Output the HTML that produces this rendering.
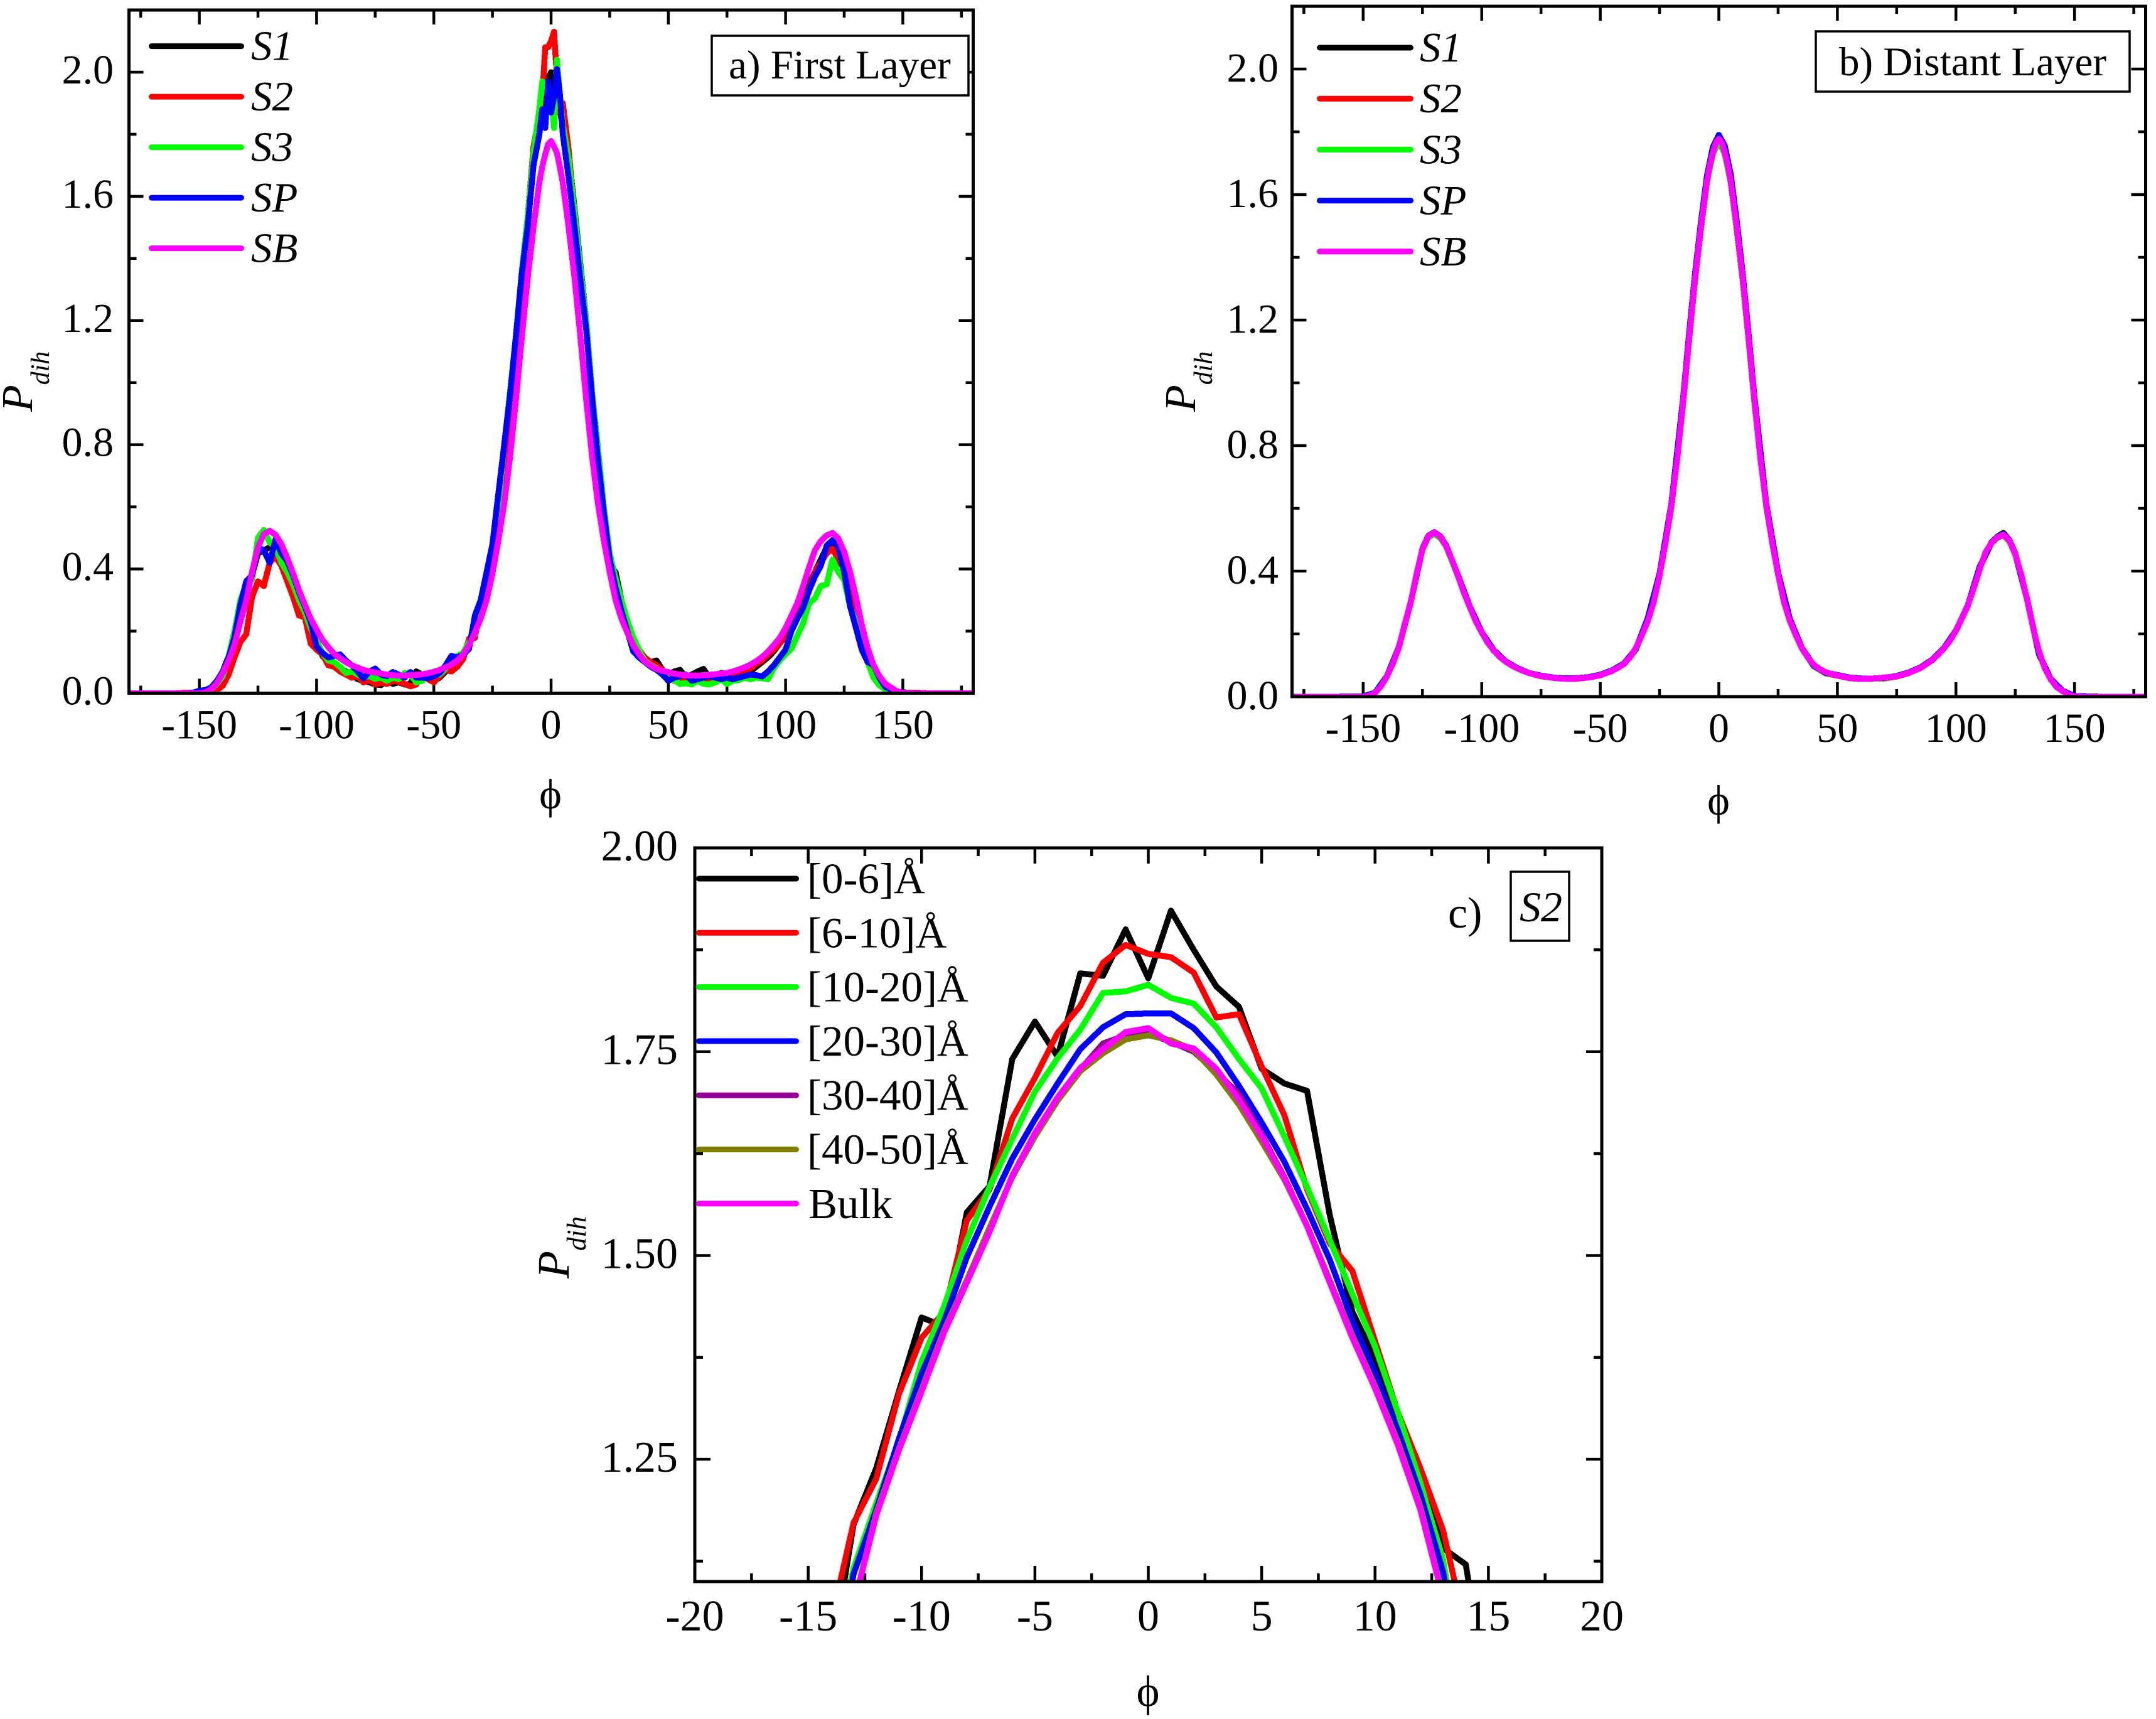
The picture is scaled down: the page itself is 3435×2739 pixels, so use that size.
<!DOCTYPE html>
<html lang="en">
<head>
<meta charset="utf-8">
<title>Dihedral distributions</title>
<style>
html,body{margin:0;padding:0;background:#fff;width:3435px;height:2739px;overflow:hidden;}
svg{display:block;overflow:hidden;}
text{font-family:"Liberation Serif","DejaVu Serif",serif;fill:#000;}
.it{font-style:italic;}
</style>
</head>
<body>
<svg id="fig" xmlns="http://www.w3.org/2000/svg" width="3435" height="2739" viewBox="0 0 3435 2739">
<rect x="0" y="0" width="3435" height="2739" fill="#fff"/>
<defs>
<clipPath id="clipA"><rect x="205" y="16" width="1345" height="1088"/></clipPath>
<clipPath id="clipB"><rect x="2058" y="10" width="1360" height="1100"/></clipPath>
<clipPath id="clipC"><rect x="1107" y="1351" width="1445" height="1169"/></clipPath>
</defs>
<g id="panelA"></g>
<g id="panelB"></g>
<g id="panelC"></g>

<text transform="translate(51 656) rotate(-90)" font-size="70" class="it">P<tspan font-size="42" dy="27">dih</tspan></text>
<text transform="translate(1904 656) rotate(-90)" font-size="70" class="it">P<tspan font-size="42" dy="27">dih</tspan></text>
<text transform="translate(906 2037) rotate(-90)" font-size="72" class="it">P<tspan font-size="43" dy="27">dih</tspan></text>

<text x="877" y="1288" font-size="68" text-anchor="middle">ϕ</text>
<text x="2738" y="1298" font-size="68" text-anchor="middle">ϕ</text>
<text x="1829" y="2718" font-size="70" text-anchor="middle">ϕ</text>

<g>
<rect x="1134" y="57" width="409" height="95" fill="#fff" stroke="#000" stroke-width="3.5"/>
<text x="1161" y="125" font-size="65">a) First Layer</text>
</g>
<g>
<rect x="2893" y="50" width="500" height="96" fill="#fff" stroke="#000" stroke-width="3.5"/>
<text x="2930" y="120" font-size="65">b) Distant Layer</text>
</g>
<g>
<text x="2307" y="1478" font-size="70">c)</text>
<rect x="2407" y="1389" width="93" height="110" fill="#fff" stroke="#000" stroke-width="3.5"/>
<text x="2421" y="1468" font-size="68" class="it">S2</text>
</g>
<g id="legends"></g>
</svg>
<script>
// ---------- Panel a and panel b shared angle grid ----------
const phiA = [
  -180,-170,-160,-155,-152.5,
  -150,-147.5,-145,-142.5,-140,-137.5,-135,-132.5,-130,-127.5,
  -125,-122.5,-120,-117.5,-115,-112.5,-110,-107.5,-105,-102.5,
  -100,-97.5,-95,-92.5,-90,-87.5,-85,-82.5,-80,-77.5,
  -75,-72.5,-70,-67.5,-65,-62.5,-60,-57.5,-55,-52.5,
  -50,-47.5,-45,-42.5,-40,-37.5,-35,-32.5,-30,-27.5,
  -25,-22.5,-20,-17.5,-15,-12.5,-10,-7.5,
  -5,-3.75,-2.5,-1.25,0,1.25,2.5,3.75,5,
  7.5,10,12.5,15,17.5,20,22.5,25,
  27.5,30,32.5,35,37.5,40,42.5,45,47.5,50,
  52.5,55,57.5,60,62.5,65,67.5,70,72.5,75,
  77.5,80,82.5,85,87.5,90,92.5,95,97.5,100,
  102.5,105,107.5,110,112.5,115,117.5,120,122.5,125,
  127.5,130,132.5,135,137.5,140,142.5,145,147.5,150,
  152.5,155,160,170,180
];
// ---------- Panel a values ----------
const firstS1 = [
  0,0,0,.001,.002,
  .004,.006,.012,.036,.07,.12,.15,.24,.33,.38,
  .45,.46,.47,.465,.42,.4,.34,.3,.25,.18,
  .16,.12,.1,.095,.08,.07,.06,.045,.04,.035,
  .028,.026,.04,.03,.035,.028,.03,.07,.06,.05,
  .04,.05,.07,.09,.1,.125,.17,.2,.28,.33,
  .43,.6,.78,.97,1.14,1.36,1.5,1.72,
  1.82,1.88,1.92,1.98,2.0,1.96,1.92,1.88,1.82,
  1.74,1.56,1.38,1.2,.96,.76,.58,.41,
  .39,.3,.235,.165,.13,.11,.1,.105,.075,.055,
  .07,.075,.05,.06,.07,.078,.05,.05,.065,.06,
  .05,.055,.06,.07,.085,.1,.115,.135,.16,.185,
  .22,.27,.3,.35,.39,.43,.47,.48,.455,.4,
  .33,.26,.17,.11,.07,.035,.018,.01,.005,.003,
  .001,.002,0,0,0
];
const firstS2 = [
  0,0,0,.002,.002,
  .002,.004,.006,.01,.024,.06,.115,.165,.19,.31,
  .36,.345,.42,.44,.41,.36,.31,.25,.245,.16,
  .14,.125,.09,.085,.07,.06,.05,.055,.035,.042,
  .028,.034,.03,.04,.036,.03,.022,.028,.058,.045,
  .035,.055,.075,.07,.085,.11,.175,.178,.29,.34,
  .41,.56,.76,.95,1.12,1.33,1.53,1.76,
  1.86,1.92,2.08,2.08,2.10,2.13,1.98,1.87,1.9,
  1.75,1.54,1.36,1.19,.92,.72,.54,.44,
  .35,.285,.23,.17,.14,.115,.1,.09,.075,.055,
  .04,.05,.045,.038,.045,.052,.04,.035,.05,.042,
  .05,.06,.07,.08,.095,.105,.125,.14,.16,.19,
  .22,.25,.31,.33,.39,.42,.45,.465,.43,.40,
  .37,.28,.17,.11,.075,.04,.02,.012,.006,.002,
  .001,.001,0,0,0
];
const firstS3 = [
  0,0,0,0,.001,
  .002,.005,.012,.03,.055,.12,.2,.3,.35,.365,
  .5,.525,.485,.47,.42,.39,.35,.3,.26,.21,
  .17,.13,.105,.1,.085,.065,.07,.06,.052,.055,
  .046,.05,.04,.05,.045,.065,.06,.035,.04,.06,
  .065,.06,.08,.105,.12,.13,.165,.19,.27,.325,
  .43,.6,.8,.97,1.15,1.36,1.53,1.74,
  1.88,1.97,1.93,1.94,1.93,1.82,2.04,1.93,1.83,
  1.72,1.55,1.37,1.2,.97,.79,.6,.45,
  .37,.3,.235,.18,.14,.105,.09,.08,.06,.045,
  .042,.03,.032,.028,.04,.03,.028,.035,.045,.03,
  .04,.042,.05,.045,.05,.048,.045,.08,.105,.125,
  .143,.185,.225,.29,.305,.345,.35,.43,.39,.365,
  .277,.23,.16,.1,.05,.025,.012,.005,.002,0,
  0,0,0,0,0
];
const firstSP = [
  0,0,0,0,.002,
  .008,.01,.018,.04,.07,.115,.18,.285,.36,.38,
  .47,.46,.42,.495,.45,.425,.38,.325,.28,.23,
  .15,.13,.115,.12,.125,.105,.09,.07,.048,.07,
  .079,.06,.055,.068,.06,.05,.068,.05,.05,.048,
  .055,.065,.09,.12,.115,.125,.142,.25,.3,.39,
  .48,.64,.8,.96,1.15,1.35,1.5,1.7,
  1.8,1.88,1.82,1.97,1.87,1.92,2.01,1.93,1.8,
  1.66,1.5,1.33,1.17,.95,.75,.58,.43,
  .34,.265,.2,.135,.115,.1,.085,.075,.06,.04,
  .05,.055,.06,.04,.045,.05,.055,.05,.045,.05,
  .045,.05,.055,.06,.058,.054,.07,.09,.115,.14,
  .2,.24,.275,.33,.375,.41,.475,.493,.47,.39,
  .28,.21,.14,.1,.09,.05,.02,.012,.006,.002,
  0,0,0,0,0
];
const firstSB = [
  0,0,0,0,0,
  0,.003,.012,.033,.065,.105,.155,.23,.298,.39,
  .47,.512,.523,.51,.48,.435,.385,.331,.285,.24,
  .205,.172,.148,.127,.112,.1,.09,.082,.075,.07,
  .066,.063,.06,.058,.057,.057,.058,.059,.061,.064,
  .069,.075,.083,.092,.105,.125,.155,.195,.24,.30,
  .385,.49,.61,.76,.945,1.145,1.335,1.5,
  1.645,1.697,1.735,1.768,1.778,1.76,1.74,1.695,1.643,
  1.5,1.337,1.147,.945,.76,.61,.49,.39,
  .30,.24,.195,.155,.125,.102,.088,.078,.072,.068,
  .063,.06,.058,.057,.057,.058,.059,.061,.063,.065,
  .07,.076,.083,.092,.103,.117,.134,.155,.178,.21,
  .25,.29,.345,.405,.46,.49,.508,.516,.498,.455,
  .39,.31,.22,.145,.09,.055,.03,.018,.006,.001,
  0,0,0,0,0
];
// ---------- Panel b values ----------
const phiB = [
  -180,-160,
  -150,-145,-140,-135,-130,-125,-122.5,-120,-117.5,-115,-110,-105,-100,-95,
  -90,-85,-80,-75,-70,-65,-60,-55,-50,-45,-40,-35,
  -30,-25,-20,-15,-12.5,-10,-7.5,-5,-2.5,0,2.5,5,7.5,10,12.5,15,20,25,
  30,35,40,45,50,55,60,65,70,75,80,85,
  90,95,100,105,110,115,117.5,120,122.5,125,130,135,140,145,
  150,160,180
];
const distantS1 = [
  0,0,
  .001,.012,.066,.156,.299,.471,.512,.522,.51,.481,.386,.286,.206,.149,
  .113,.09,.075,.066,.06,.057,.058,.061,.069,.083,.105,.151,
  .245,.387,.608,.942,1.145,1.335,1.5,1.648,1.737,1.775,1.737,1.646,1.5,1.337,1.147,.945,.61,.39,
  .246,.156,.098,.075,.068,.06,.057,.057,.059,.065,.076,.092,
  .117,.156,.211,.291,.414,.492,.51,.522,.499,.457,.311,.136,.055,.018,
  .001,0,0
];
const distantS2 = [
  0,0,
  .001,.011,.064,.155,.297,.469,.508,.519,.506,.479,.384,.285,.204,.147,
  .112,.09,.075,.065,.06,.057,.057,.061,.068,.082,.104,.149,
  .244,.385,.6,.935,1.137,1.327,1.49,1.64,1.73,1.77,1.73,1.638,1.49,1.328,1.14,.935,.6,.389,
  .244,.154,.097,.074,.067,.059,.056,.057,.058,.064,.075,.091,
  .116,.154,.209,.289,.411,.489,.506,.514,.495,.454,.309,.134,.054,.017,
  .001,0,0
];
const distantS3 = [
  0,0,
  .001,.013,.066,.156,.298,.47,.509,.52,.507,.48,.385,.285,.205,.148,
  .112,.091,.076,.066,.061,.058,.058,.061,.069,.083,.105,.15,
  .246,.386,.602,.937,1.14,1.33,1.493,1.642,1.732,1.772,1.732,1.64,1.493,1.33,1.142,.937,.6,.391,
  .245,.155,.098,.075,.068,.061,.058,.057,.059,.065,.077,.092,
  .118,.155,.21,.29,.412,.49,.506,.515,.496,.455,.31,.135,.056,.018,
  .002,0,0
];
const distantSP = [
  0,0,
  .001,.012,.065,.157,.3,.472,.513,.524,.511,.482,.387,.287,.206,.149,
  .113,.091,.075,.067,.061,.058,.059,.062,.07,.084,.106,.152,
  .25,.392,.615,.955,1.16,1.35,1.515,1.66,1.752,1.79,1.756,1.665,1.52,1.352,1.16,.955,.615,.395,
  .247,.156,.099,.076,.069,.061,.058,.058,.06,.066,.077,.093,
  .118,.156,.211,.291,.413,.491,.509,.518,.5,.456,.311,.136,.056,.019,
  .002,0,0
];
const distantSB = [
  0,0,0,0,0,
  0,.003,.012,.033,.065,.105,.155,.23,.298,.39,
  .47,.512,.523,.51,.48,.435,.385,.331,.285,.24,
  .205,.172,.148,.127,.112,.1,.09,.082,.075,.07,
  .066,.063,.06,.058,.057,.057,.058,.059,.061,.064,
  .069,.075,.083,.092,.105,.125,.155,.195,.24,.30,
  .385,.49,.61,.76,.945,1.145,1.335,1.5,
  1.645,1.695,1.735,1.765,1.778,1.765,1.735,1.693,1.643,
  1.5,1.337,1.147,.945,.76,.61,.49,.39,
  .30,.24,.195,.155,.125,.102,.088,.078,.072,.068,
  .063,.06,.058,.057,.057,.058,.059,.061,.063,.065,
  .07,.076,.083,.092,.103,.117,.134,.155,.178,.21,
  .25,.29,.345,.405,.46,.49,.508,.516,.498,.455,
  .39,.31,.22,.145,.09,.055,.03,.018,.006,.001,
  0,0,0,0,0
];
// ---------- Panel c values ----------
const phiC = [-14,-13,-12,-11,-10,-9,-8,-7,-6,-5,-4,-3,-2,-1,0,1,2,3,4,5,6,7,8,9,10,11,12,13,14,15];
const layer0to6 = [1.0,1.17,1.239,1.333,1.424,1.413,1.553,1.585,1.741,1.787,1.744,1.846,1.843,1.90,1.84,1.923,1.875,1.83,1.805,1.729,1.711,1.702,1.55,1.431,1.373,1.286,1.221,1.141,1.121,.95];
const layer6to10 = [1.05,1.172,1.226,1.33,1.399,1.431,1.543,1.581,1.668,1.718,1.773,1.806,1.859,1.881,1.87,1.866,1.847,1.792,1.796,1.732,1.672,1.581,1.515,1.481,1.395,1.308,1.239,1.163,1.04,.95];
const layer10to20 = [.99,1.116,1.196,1.272,1.37,1.438,1.519,1.584,1.643,1.701,1.742,1.777,1.822,1.824,1.832,1.816,1.809,1.78,1.741,1.705,1.646,1.584,1.519,1.453,1.388,1.308,1.221,1.127,.96,.95];
const layer20to30 = [.95,1.109,1.188,1.275,1.355,1.42,1.498,1.56,1.619,1.667,1.711,1.753,1.78,1.796,1.797,1.797,1.779,1.749,1.708,1.663,1.615,1.557,1.495,1.42,1.356,1.286,1.207,1.112,.95,.95];
const layer30to40 = [.95,1.07,1.183,1.262,1.335,1.408,1.469,1.532,1.597,1.648,1.692,1.728,1.76,1.77,1.772,1.762,1.75,1.725,1.698,1.648,1.596,1.536,1.468,1.4,1.338,1.27,1.19,1.08,.95,.95];
const layer40to50 = [.95,1.07,1.184,1.263,1.336,1.409,1.47,1.534,1.596,1.646,1.69,1.726,1.748,1.765,1.77,1.764,1.752,1.722,1.685,1.64,1.593,1.537,1.47,1.402,1.34,1.272,1.192,1.082,.95,.95];
const layerBulk = [.95,1.07,1.181,1.261,1.333,1.406,1.467,1.529,1.598,1.65,1.694,1.73,1.753,1.774,1.779,1.76,1.754,1.729,1.691,1.646,1.595,1.536,1.467,1.399,1.337,1.268,1.188,1.08,.95,.95];
// ---------- Tick labels ----------
const wideXMajor = [-150,-100,-50,0,50,100,150];
const wideXMinor = [-175,-125,-75,-25,25,75,125,175];
const wideYMajor = ["0.0","0.4","0.8","1.2","1.6","2.0"];
const wideYMinor = [0.2,0.6,1.0,1.4,1.8];
const zoomXMajor = [-20,-15,-10,-5,0,5,10,15,20];
const zoomXMinor = [-17.5,-12.5,-7.5,-2.5,2.5,7.5,12.5,17.5];
const zoomYMajor = ["1.25","1.50","1.75","2.00"];
const zoomYMinor = [1.125,1.375,1.625,1.875];
// ---------- Legend labels ----------
const systemLabels = ["S1","S2","S3","SP","SB"];
const layerLabels = ["[0-6]Å","[6-10]Å","[10-20]Å","[20-30]Å","[30-40]Å","[40-50]Å","Bulk"];

const NS = "http://www.w3.org/2000/svg";
const systemColors = ["#000000","#ff0000","#00ff00","#0000ff","#ff00ff"];
const layerColors = ["#000000","#ff0000","#00ff00","#0000ff","#930093","#808000","#ff00ff"];

function make(tag, parent, attrs, txt) {
  const n = document.createElementNS(NS, tag);
  for (const k in attrs) n.setAttribute(k, attrs[k]);
  if (txt !== undefined) n.textContent = txt;
  parent.appendChild(n);
  return n;
}
function scale(d0, d1, r0, r1) {
  return function (v) { return r0 + (v - d0) / (d1 - d0) * (r1 - r0); };
}
function drawTicks(g, p, x, y) {
  p.xMajor.forEach(function (v) {
    const px = x(v);
    const a = make("line", g, {x1:px, x2:px, y1:p.bottom, y2:p.bottom - p.major, stroke:"#000", "stroke-width":4.5});
    
    
    const b = make("line", g, {x1:px, x2:px, y1:p.top, y2:p.top + p.major, stroke:"#000", "stroke-width":4.5});
    
    
    const t = make("text", g, {x:px, y:p.bottom + p.xLabelDy, "font-size":p.font, "text-anchor":"middle"}, String(v));
    
    
  });
  p.xMinor.forEach(function (v) {
    const px = x(v);
    const a = make("line", g, {x1:px, x2:px, y1:p.bottom, y2:p.bottom - p.minor, stroke:"#000", "stroke-width":4.5});
    
    
    const b = make("line", g, {x1:px, x2:px, y1:p.top, y2:p.top + p.minor, stroke:"#000", "stroke-width":4.5});
    
    
  });
  p.yMajor.forEach(function (s) {
    const py = y(parseFloat(s));
    const a = make("line", g, {x1:p.left, x2:p.left + p.major, y1:py, y2:py, stroke:"#000", "stroke-width":4.5});
    
    
    const b = make("line", g, {x1:p.right, x2:p.right - p.major, y1:py, y2:py, stroke:"#000", "stroke-width":4.5});
    
    
    const t = make("text", g, {x:p.yLabelX, y:py + p.yLabelDy, "font-size":p.font, "text-anchor":"end"}, s);
    
    
  });
  p.yMinor.forEach(function (v) {
    const py = y(v);
    const a = make("line", g, {x1:p.left, x2:p.left + p.minor, y1:py, y2:py, stroke:"#000", "stroke-width":4.5});
    
    
    const b = make("line", g, {x1:p.right, x2:p.right - p.minor, y1:py, y2:py, stroke:"#000", "stroke-width":4.5});
    
    
  });
}
function drawSeries(g, xs, ys, x, y, color, clip) {
  const n = Math.min(xs.length, ys.length);
  const pts = [];
  for (let i = 0; i < n; i++) pts.push(x(xs[i]).toFixed(1) + "," + y(ys[i]).toFixed(1));
  return make("polyline", g, {points:pts.join(" "), fill:"none", stroke:color, "stroke-width":9.5, "stroke-linejoin":"round", "shape-rendering":"crispEdges", "clip-path":"url(#" + clip + ")"});
}
function drawFrame(g, p) {
  const f = make("rect", g, {x:p.left, y:p.top, width:p.right - p.left, height:p.bottom - p.top, fill:"none", stroke:"#000", "stroke-width":5});
  
  
}

const panelA = {left:205.5, right:1550.5, top:16, bottom:1104.5, xMin:-180, xMax:180, yMin:0, yMax:2.2,
  xMajor:wideXMajor, xMinor:wideXMinor, yMajor:wideYMajor, yMinor:wideYMinor,
  major:23, minor:12, font:66, xLabelDy:72, yLabelX:181, yLabelDy:18};
const panelB = {left:2058.5, right:3418.5, top:10, bottom:1110, xMin:-180, xMax:180, yMin:0, yMax:2.2,
  xMajor:wideXMajor, xMinor:wideXMinor, yMajor:wideYMajor, yMinor:wideYMinor,
  major:23, minor:12, font:66, xLabelDy:72, yLabelX:2037, yLabelDy:20};
const panelC = {left:1107, right:2552, top:1351, bottom:2520, xMin:-20, xMax:20, yMin:1.1, yMax:2.0,
  xMajor:zoomXMajor, xMinor:zoomXMinor, yMajor:zoomYMajor, yMinor:zoomYMinor,
  major:25, minor:13, font:70, xLabelDy:78, yLabelX:1080, yLabelDy:20};

function axisX(p) { return scale(p.xMin, p.xMax, p.left, p.right); }
function axisY(p) { return scale(p.yMin, p.yMax, p.bottom, p.top); }

// Panel a
(function () {
  const g = document.getElementById("panelA");
  const x = axisX(panelA), y = axisY(panelA);
  drawTicks(g, panelA, x, y);
  const s1 = drawSeries(g, phiA, firstS1, x, y, systemColors[0], "clipA");
  
  
  const s2 = drawSeries(g, phiA, firstS2, x, y, systemColors[1], "clipA");
  
  
  const s3 = drawSeries(g, phiA, firstS3, x, y, systemColors[2], "clipA");
  
  
  const sp = drawSeries(g, phiA, firstSP, x, y, systemColors[3], "clipA");
  
  
  const sb = drawSeries(g, phiA, firstSB, x, y, systemColors[4], "clipA");
  
  
  drawFrame(g, panelA);
})();

// Panel b
(function () {
  const g = document.getElementById("panelB");
  const x = axisX(panelB), y = axisY(panelB);
  drawTicks(g, panelB, x, y);
  const s1 = drawSeries(g, phiB, distantS1, x, y, systemColors[0], "clipB");
  
  
  const s2 = drawSeries(g, phiB, distantS2, x, y, systemColors[1], "clipB");
  
  
  const s3 = drawSeries(g, phiB, distantS3, x, y, systemColors[2], "clipB");
  
  
  const sp = drawSeries(g, phiB, distantSP, x, y, systemColors[3], "clipB");
  
  
  const sb = drawSeries(g, phiA, distantSB, x, y, systemColors[4], "clipB");
  
  
  drawFrame(g, panelB);
})();

// Panel c
(function () {
  const g = document.getElementById("panelC");
  const x = axisX(panelC), y = axisY(panelC);
  drawTicks(g, panelC, x, y);
  const a = drawSeries(g, phiC, layer0to6, x, y, layerColors[0], "clipC");
  
  
  const b = drawSeries(g, phiC, layer6to10, x, y, layerColors[1], "clipC");
  
  
  const c = drawSeries(g, phiC, layer10to20, x, y, layerColors[2], "clipC");
  
  
  const d = drawSeries(g, phiC, layer20to30, x, y, layerColors[3], "clipC");
  
  
  const e = drawSeries(g, phiC, layer30to40, x, y, layerColors[4], "clipC");
  
  
  const f = drawSeries(g, phiC, layer40to50, x, y, layerColors[5], "clipC");
  
  
  const h = drawSeries(g, phiC, layerBulk, x, y, layerColors[6], "clipC");
  
  
  drawFrame(g, panelC);
})();

// Legends
function drawLegend(labels, colors, x0, x1, textX, y0, dy, textDy, size, italic) {
  const root = document.getElementById("legends");
  labels.forEach(function (label, i) {
    const yy = y0 + i * dy;
    const entry = make("g", root, {});
    
    
    const sw = make("line", entry, {x1:x0, x2:x1, y1:yy, y2:yy, stroke:colors[i], "stroke-width":9, "stroke-linecap":"round"});
    
    
    const attrs = {x:(label === "Bulk" ? textX + 2 : textX), y:yy + textDy, "font-size":size};
    if (italic) attrs["class"] = "it";
    const t = make("text", entry, attrs, label);
    
    
  });
}
drawLegend(systemLabels, systemColors, 241.5, 384.5, 400, 73.6, 80.5, 22, 67, true);
drawLegend(systemLabels, systemColors, 2102.5, 2247.5, 2262, 76, 81.2, 22, 67, true);
drawLegend(layerLabels, layerColors, 1113.5, 1268.5, 1286, 1400, 86.3, 23, 69, false);
</script>
</body>
</html>
